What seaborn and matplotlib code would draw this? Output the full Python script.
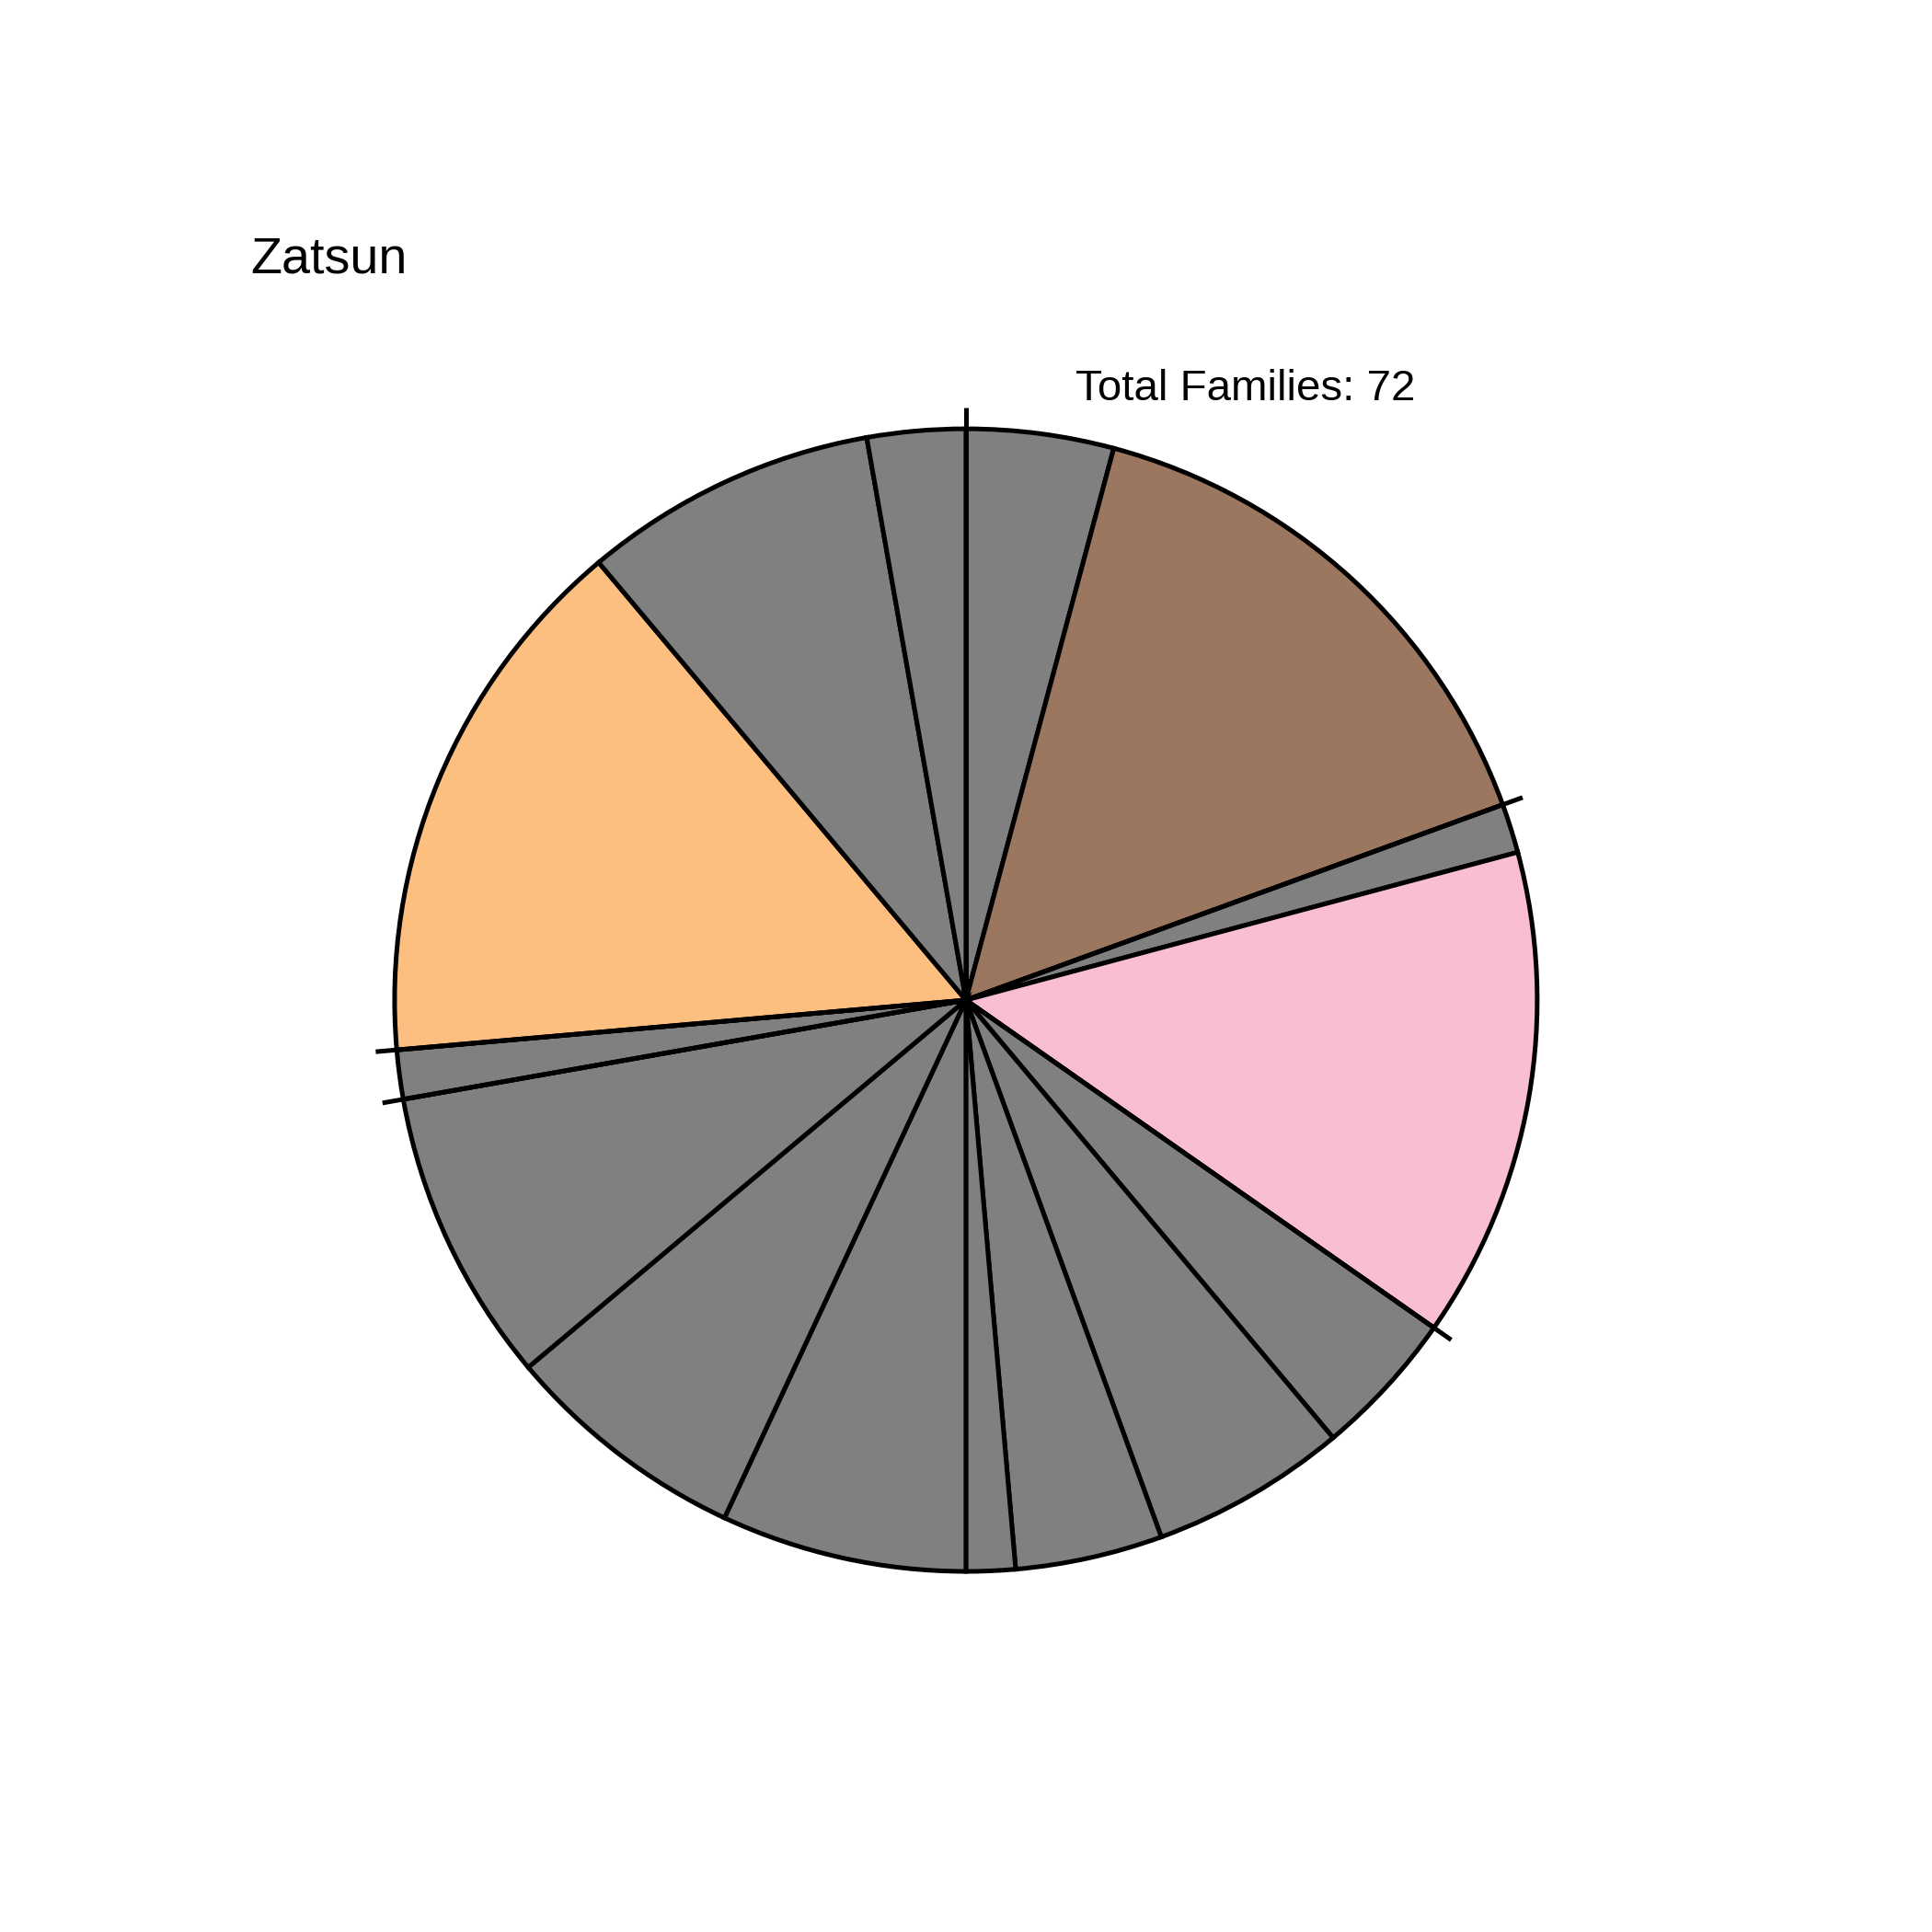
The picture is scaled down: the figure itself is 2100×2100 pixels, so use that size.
#!/usr/bin/env python3

import numpy as np
import matplotlib
matplotlib.use("Agg")
import matplotlib.pyplot as plt
import seaborn as sns

# families per group, clockwise from 12 o'clock
counts = [3, 11, 1, 10, 3, 4, 3, 1, 5, 5, 6, 1, 11, 6, 2]
groups = ["other", "brown", "other", "pink", "other", "other", "other", "other",
          "other", "other", "other", "other", "orange", "other", "other"]
# wedge boundaries (in families from the top) that get an outer tick
tick_at = [0, 14, 25, 52, 53]
title = "Zatsun"

sns.set_theme(style="white")
plt.rcParams['font.family'] = ['Liberation Sans', 'DejaVu Sans']

palette = {"other": "#808080", "brown": "#9C7760",
           "pink": "#F9BED3", "orange": "#FDBF7F"}
colors = [palette[g] for g in groups]
total = sum(counts)

fig = plt.figure(figsize=(7, 7), dpi=300)
ax = fig.add_axes([0.0564, 0.0388, 0.8871, 0.8871])
ax.pie(counts, colors=colors, startangle=90, counterclock=False, radius=1,
       wedgeprops=dict(edgecolor='black', linewidth=1.2))

ang = np.deg2rad(90 - 360 * np.array(tick_at) / total)
for a in ang:
    ax.plot([0, 1.037 * np.cos(a)], [0, 1.037 * np.sin(a)], color='black',
            lw=1.2, solid_capstyle='butt')

ax.set_xlim(-1.5, 1.5)
ax.set_ylim(-1.5, 1.5)
ax.set_aspect('equal')
ax.axis('off')

fig.text(0.1295, 0.8586, title, fontsize=13.4, color='black',
         ha='left', va='baseline')
fig.text(0.5567, 0.7929, f"Total Families: {total}", fontsize=11.4,
         color='black', ha='left', va='baseline')

fig.savefig("out.png", dpi=300, facecolor='white')
